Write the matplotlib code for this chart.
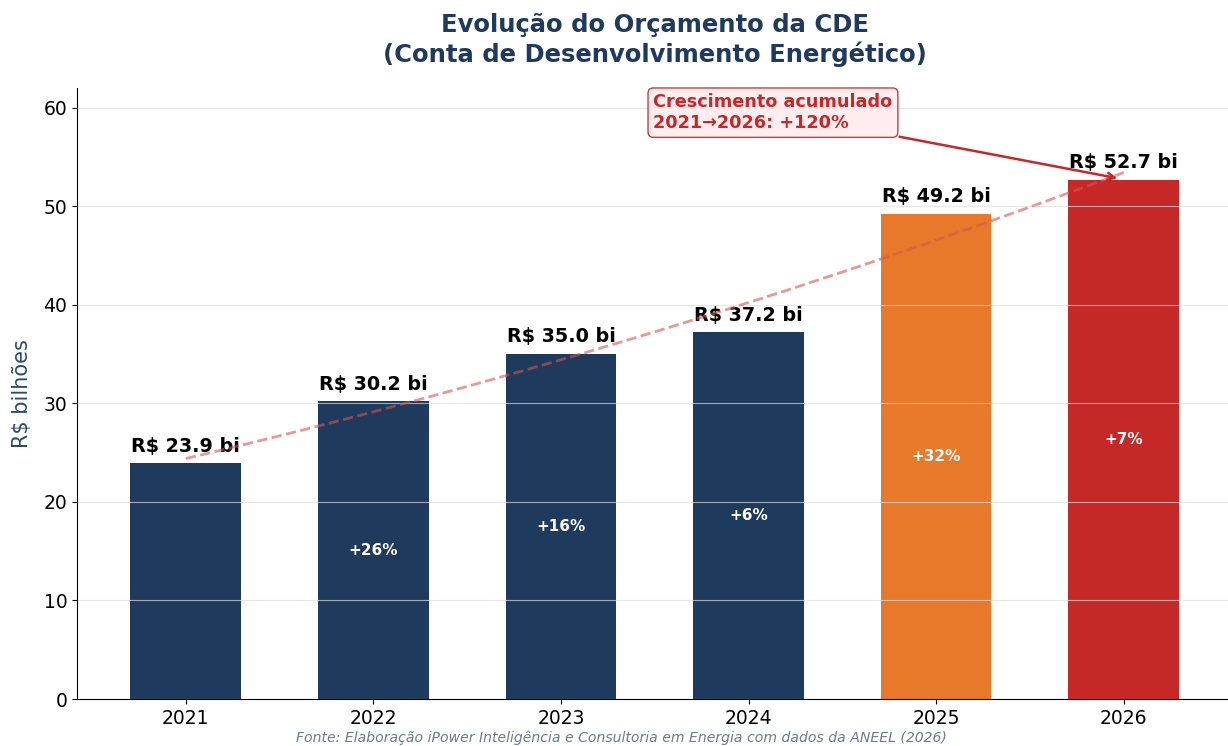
import matplotlib
matplotlib.use('Agg')
import matplotlib.pyplot as plt
import numpy as np


# dados do orçamento da CDE (R$ bilhões)
anos = ['2021', '2022', '2023', '2024', '2025', '2026']
valores = [23.9, 30.2, 35.0, 37.2, 49.2, 52.7]
variacoes = [None, '+26%', '+16%', '+6%', '+32%', '+7%']
cores = ['#1e3a5c', '#1e3a5c', '#1e3a5c', '#1e3a5c', '#e8792b', '#c62828']

fig = plt.figure(figsize=(12.28, 7.46), dpi=100)
ax = fig.add_axes([0.0627, 0.063, 0.941, 0.819])

x = np.arange(len(anos))
bars = ax.bar(x, valores, width=0.59, color=cores)

# rótulos de valor e variação
for xi, v, var in zip(x, valores, variacoes):
    ax.text(xi, v + 0.8, f'R$ {v:.1f} bi', ha='center', va='bottom',
            fontsize=13.8, fontweight='bold', color='black')
    if var:
        ax.text(xi, v / 2, var, ha='center', va='center',
                fontsize=11, fontweight='bold', color='white')

# tendência (ajuste polinomial de grau 2)
coef = np.polyfit(x, valores, 2)
xs = np.linspace(0, len(anos) - 1, 100)
ax.plot(xs, np.polyval(coef, xs), '--', color='#d9534f',
        alpha=0.6, lw=2, zorder=3)

ax.annotate('Crescimento acumulado\n2021→2026: +120%',
            xy=(4.98, 52.8), xytext=(3.13, 59.5),
            ha='center', va='center', multialignment='left',
            fontsize=12.7, fontweight='bold', color='#c62828',
            bbox=dict(boxstyle='round,pad=0.3', fc='#ffebee', ec='#c62828', alpha=0.9),
            arrowprops=dict(arrowstyle='->', color='#c62828', lw=1.8), zorder=5)

ax.set_xticks(x)
ax.set_xticklabels(anos, fontsize=13.5)
ax.tick_params(axis='y', labelsize=13.5)
ax.set_ylim(0, 62)
ax.set_xlim(-0.58, 5.58)
ax.set_ylabel('R$ bilhões', fontsize=15, color='#2c4a6e', labelpad=8)
ax.yaxis.grid(True, color='#dddddd', alpha=0.7)
ax.spines['top'].set_visible(False)
ax.spines['right'].set_visible(False)

fig.suptitle('Evolução do Orçamento da CDE\n(Conta de Desenvolvimento Energético)',
             x=0.533, y=0.982, fontsize=17.5, fontweight='bold', color='#1e3a5f')

fig.text(0.506, 0.002, 'Fonte: Elaboração iPower Inteligência e Consultoria em Energia com dados da ANEEL (2026)',
         ha='center', va='bottom', fontsize=10.1, style='italic', color='#6b7b8c')

fig.savefig('out.png', dpi=100)
